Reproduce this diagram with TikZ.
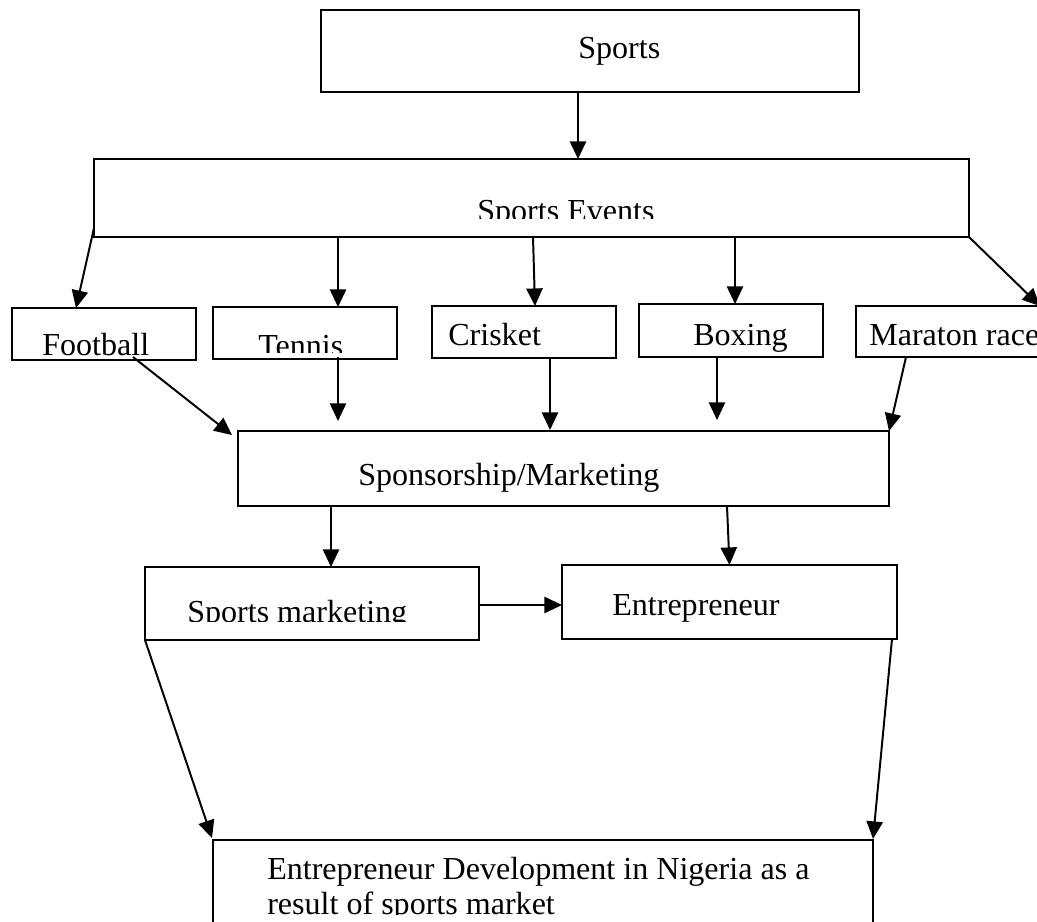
\documentclass[tikz,border=0pt]{standalone}
\usepackage{fontspec}
\setmainfont{Liberation Serif}
\usetikzlibrary{arrows.meta,calc,fit}

\begin{document}
\begin{tikzpicture}[x=0.025cm,y=-0.025cm,
  box/.style={draw,line width=1.5pt,inner sep=0pt,outer sep=0pt},
  lbl/.style={anchor=base west,inner sep=0pt,font=\fontsize{22.8}{26}\selectfont},
  arr/.style={-{Triangle[length=12.5pt,width=11.5pt]},line width=1.4pt}]
\clip (0,0) rectangle (1037,921);

\node [box,fit={(321,10) (859,92)}] (sports) {};
\node [box,fit={(94,159) (969,237)}] (events) {};
\node [box,fit={(12,308) (196,360)}] (football) {};
\node [box,fit={(213,307) (397,359)}] (tennis) {};
\node [box,fit={(432,306) (616,358)}] (crisket) {};
\node [box,fit={(639,304) (823,357)}] (boxing) {};
\node [box,fit={(856,306) (1040,357)}] (maraton) {};
\node [box,fit={(238,431) (889,506)}] (spons) {};
\node [box,fit={(145,567) (479,640)}] (smarket) {};
\node [box,fit={(562,565) (897,639)}] (entre) {};
\node [box,fit={(213,840) (873,960)}] (result) {};

\node [lbl] (sportsT) at (578,58) {Sports};
\begin{scope}
\clip (94,159) rectangle (969,218);
\node [lbl] (eventsT) at (477,221) {Sports Events};
\end{scope}
\node [lbl] (footballT) at (42,355) {Football};
\begin{scope}
\clip (213,307) rectangle (397,352);
\node [lbl] (tennisT) at (258,356) {Tennis};
\end{scope}
\node [lbl] (crisketT) at (448,345) {Crisket};
\node [lbl] (boxingT) at (693,345) {Boxing};
\node [lbl] (maratonT) at (869,345) {Maraton race};
\node [lbl] (sponsT) at (358,485) {Sponsorship/Marketing};
\begin{scope}
\clip (145,567) rectangle (479,621);
\node [lbl] (smarketT) at (187,622) {Sports marketing};
\end{scope}
\node [lbl] (entreT) at (612,615) {Entrepreneur};
\begin{scope}
\clip (213,840) rectangle (873,914);
\node [lbl] (resultT) at (267,879) {Entrepreneur Development in Nigeria as a};
\node [lbl] (resultU) at (267,914) {result of sports market};
\end{scope}

\draw [arr] ($(sports.south)+(-12,0)$) -- ($(events.north)+(46.5,0)$);
\draw [arr] ($(events.south west)+(0,-9)$) -- ($(football.north)+(-28,0)$);
\draw [arr] ($(events.south)+(-193.5,0)$) -- ($(tennis.north)+(33,0)$);
\draw [arr] ($(events.south)+(1.5,0)$) -- ($(crisket.north)+(11,0)$);
\draw [arr] ($(events.south)+(203.5,0)$) -- ($(boxing.north)+(4,0)$);
\draw [arr] (events.south east) -- (maraton.north east);
\draw [arr] ($(football.south)+(29,-3)$) -- ($(spons.north west)+(-6,4)$);
\draw [arr] ($(tennis.south)+(33,-2)$) -- ($(spons.north)+(-225.5,-10)$);
\draw [arr] ($(crisket.south)+(26,0)$) -- ($(spons.north)+(-13.5,-1)$);
\draw [arr] ($(boxing.south)+(-14,0)$) -- ($(spons.north)+(153.5,-11)$);
\draw [arr] ($(maraton.south west)+(50,0)$) -- (spons.north east);
\draw [arr] ($(spons.south)+(-232.5,0)$) -- ($(smarket.north)+(19,0)$);
\draw [arr] ($(spons.south)+(163.5,0)$) -- (entre.north);
\draw [arr] ($(smarket.east)+(0,1.5)$) -- ($(entre.west)+(0,3)$);
\draw [arr] (smarket.south west) -- ($(result.north west)+(-1,-2)$);
\draw [arr] ($(entre.south east)+(-5,0)$) -- ($(result.north east)+(0,-1)$);

\end{tikzpicture}
\end{document}
